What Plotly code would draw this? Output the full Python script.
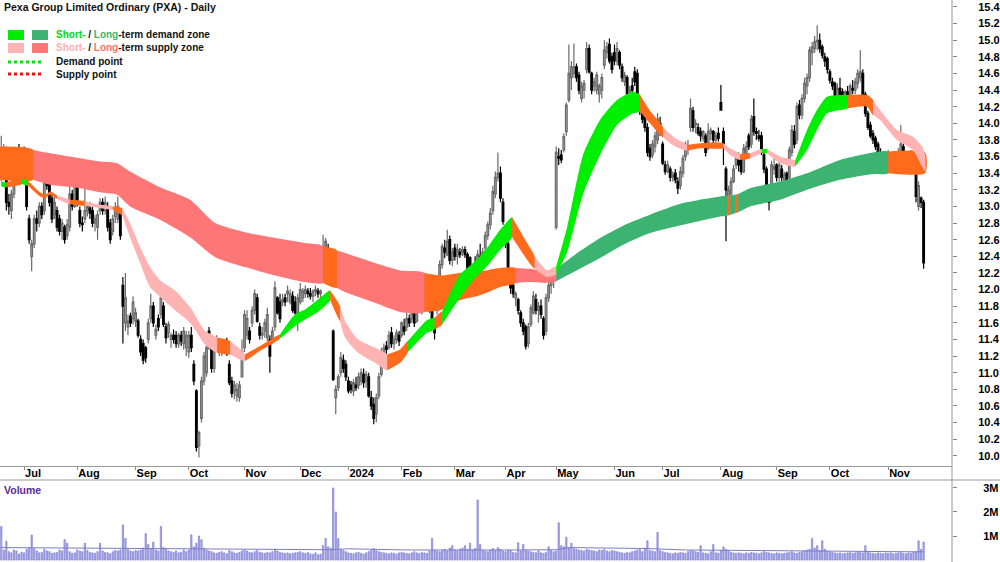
import pandas as pd
import plotly.graph_objects as go

# ---------------- data ----------------
holidays = ['2023-12-25', '2023-12-26', '2024-01-01', '2024-01-26',
            '2024-03-29', '2024-04-01', '2024-04-25', '2024-06-10']

open_ = [
 13.40,13.50,13.70,13.05,12.95,13.15,13.45,13.70,13.45,
 13.65,13.50,12.85,12.40,12.55,12.85,12.80,13.00,12.95,13.45,13.30,13.10,12.90,12.95,12.85,12.70,12.75,12.65,12.75,13.15,13.00,
 13.28,12.95,12.80,12.85,12.95,12.98,12.95,12.80,12.75,12.95,13.05,12.95,13.00,12.80,12.70,12.88,12.85,12.95,12.05,11.60,11.55,11.68,11.65,
 11.62,11.62,11.40,11.35,11.30,11.40,11.65,11.80,11.45,11.65,11.70,11.80,11.55,11.48,11.40,11.45,11.45,11.35,11.45,11.35,11.30,
 11.25,11.45,11.10,10.78,10.12,10.45,10.90,11.00,11.50,11.40,11.05,11.35,11.30,11.25,11.28,11.35,11.10,10.90,10.78,10.72,10.70,10.95,
 11.30,11.45,11.50,11.60,11.75,11.90,11.55,11.45,11.50,11.42,11.40,11.40,11.55,11.90,11.85,11.85,11.90,11.95,11.85,11.92,11.85,11.72,
 11.85,11.90,11.95,11.98,11.95,11.92,11.98,11.98,11.95,12.20,12.45,12.50,12.18,11.50,10.70,10.82,11.00,11.15,11.10,
 10.90,10.85,10.78,10.85,10.85,10.90,10.98,10.90,10.95,10.70,10.62,10.50,10.72,10.98,11.20,11.32,11.30,11.48,11.35,11.40,11.45,
 11.45,11.55,11.55,11.65,11.65,11.72,11.62,11.85,11.80,11.85,12.08,11.90,11.75,11.60,11.75,12.05,12.30,12.50,12.42,12.60,12.35,
 12.50,12.40,12.45,12.45,12.48,12.42,12.38,12.10,12.25,12.22,12.40,12.30,12.50,12.65,12.78,12.95,13.15,13.35,13.40,13.05,
 12.70,12.55,12.10,12.05,11.90,11.88,11.72,11.60,11.55,11.35,11.58,11.72,11.88,11.75,11.80,11.65,11.50,11.90,12.05,12.10,
 12.75,13.60,13.62,13.68,13.90,14.28,14.55,14.60,14.68,14.58,14.30,14.40,14.65,14.90,14.60,14.45,14.40,14.35,14.40,14.70,14.85,14.95,14.80,
 14.85,14.75,14.85,14.68,14.50,14.55,14.32,14.45,14.62,14.60,14.25,14.20,14.10,13.95,13.70,13.62,13.72,13.80,14.00,
 13.75,13.50,13.42,13.45,13.35,13.40,13.30,13.25,13.40,13.60,13.70,13.95,14.15,13.98,13.95,13.90,13.82,13.85,13.70,13.88,13.90,13.80,13.88,
 14.25,13.90,13.45,13.05,13.15,13.30,13.50,13.58,13.58,13.42,13.62,13.85,13.75,14.08,13.90,13.85,13.85,13.62,13.45,13.20,13.10,13.45,
 13.50,13.35,13.45,13.32,13.40,13.35,13.65,13.90,13.80,14.22,14.10,14.30,14.45,14.55,14.85,14.90,14.98,15.00,14.92,14.80,14.78,
 14.62,14.50,14.48,14.30,14.42,14.38,14.25,14.38,14.32,14.42,14.40,14.48,14.55,14.60,14.35,14.12,13.98,13.88,13.82,13.75,13.65,13.60,13.52,
 13.48,13.62,13.50,13.58,13.52,13.65,13.72,13.60,13.50,13.58,13.60,13.45,13.00,13.10,13.05,
]
high = [
 13.85,13.75,13.72,13.15,13.20,13.50,13.70,13.75,13.70,
 13.72,13.55,12.90,12.60,12.90,12.95,13.05,13.05,13.45,13.55,13.35,13.15,13.12,13.00,12.90,12.85,12.78,12.85,13.25,13.20,13.42,
 13.32,13.00,12.88,13.28,13.05,13.05,13.00,12.90,12.95,13.10,13.10,13.12,13.05,12.85,12.90,13.05,13.12,12.98,12.15,12.20,11.70,11.72,11.92,
 11.78,11.65,11.45,11.40,11.32,11.65,11.95,11.85,11.58,11.70,12.10,11.85,11.60,11.62,11.48,11.52,11.50,11.48,11.50,11.55,11.50,
 11.50,11.55,11.15,10.80,10.30,10.95,11.25,11.35,11.55,11.45,11.40,11.45,11.42,11.40,11.40,11.42,11.15,10.95,10.90,10.88,10.90,11.40,
 11.75,11.75,11.55,11.80,12.00,11.95,11.60,11.55,11.65,11.78,11.45,11.55,12.10,11.92,11.95,11.95,11.95,12.05,12.00,11.98,11.92,11.95,
 12.08,12.02,12.05,12.02,12.02,12.00,12.05,12.02,12.00,12.66,12.62,12.55,12.45,11.52,10.85,10.98,11.25,11.22,11.15,
 10.95,10.90,10.92,10.95,11.00,11.05,11.05,11.02,11.00,10.78,10.70,10.75,11.00,11.30,11.35,11.38,11.50,11.55,11.45,11.52,11.50,
 11.62,11.65,11.78,11.70,11.78,11.75,11.95,12.00,11.92,12.15,12.12,11.98,11.80,11.65,12.02,12.35,12.55,12.60,12.72,12.65,12.50,
 12.55,12.55,12.50,12.52,12.52,12.45,12.40,12.30,12.40,12.48,12.55,12.50,12.70,12.82,12.98,13.25,13.42,13.65,13.48,13.10,
 12.75,12.60,12.15,12.08,11.98,11.90,11.75,11.65,11.58,11.60,11.82,11.98,11.95,11.85,11.88,11.68,11.95,12.12,12.15,12.25,
 13.72,13.70,13.68,13.88,14.25,14.95,14.75,14.96,14.72,14.62,14.50,14.52,14.98,14.95,14.62,14.55,14.62,14.48,14.60,15.00,14.98,15.02,14.85,
 14.95,14.98,14.88,14.72,14.62,14.58,14.45,14.55,14.68,14.65,14.30,14.24,14.15,14.00,13.75,13.80,13.90,14.12,14.08,
 13.78,13.55,13.55,13.48,13.42,13.45,13.35,13.48,13.62,13.78,13.80,14.30,14.20,14.05,14.00,13.95,13.92,13.88,14.00,13.95,13.92,13.90,13.95,
 14.46,13.95,13.48,13.25,13.35,13.50,13.62,13.65,13.62,13.75,13.78,13.88,14.10,14.30,13.95,13.92,13.90,13.65,13.48,13.25,13.55,13.58,
 13.52,13.55,13.50,13.42,13.42,13.72,13.98,13.98,14.25,14.28,14.35,14.55,14.60,14.92,14.98,15.05,15.18,15.08,14.95,14.85,14.80,
 14.65,14.55,14.50,14.48,14.55,14.42,14.40,14.45,14.48,14.52,14.55,14.65,14.88,14.65,14.38,14.15,14.02,13.92,13.85,13.78,13.70,13.62,13.58,
 13.68,13.65,13.62,13.65,13.70,13.98,13.78,13.65,13.62,13.68,13.65,13.48,13.30,13.12,13.08,
]
low = [
 13.30,13.40,12.95,12.90,12.85,13.10,13.40,13.40,13.40,
 13.45,12.95,12.55,12.22,12.50,12.70,12.75,12.85,12.90,13.20,13.00,12.80,12.85,12.70,12.65,12.60,12.55,12.60,12.70,12.95,12.98,
 13.00,12.75,12.70,12.80,12.88,12.85,12.75,12.70,12.60,12.90,12.90,12.90,12.70,12.55,12.65,12.80,12.80,12.60,11.35,11.50,11.45,11.55,11.58,
 11.55,11.42,11.20,11.10,11.12,11.35,11.60,11.55,11.40,11.50,11.65,11.55,11.35,11.42,11.30,11.35,11.30,11.30,11.32,11.28,11.20,
 11.18,11.25,10.85,10.05,9.98,10.40,10.85,10.95,11.28,11.00,11.00,11.25,11.20,11.20,11.25,11.20,10.85,10.70,10.68,10.65,10.65,10.95,
 11.25,11.40,11.35,11.55,11.70,11.60,11.40,11.40,11.42,11.38,11.00,11.35,11.50,11.70,11.60,11.80,11.80,11.85,11.82,11.72,11.70,11.50,
 11.82,11.85,11.90,11.90,11.88,11.85,11.92,11.90,11.88,12.15,12.40,12.15,12.12,10.90,10.50,10.78,10.95,11.00,10.90,
 10.75,10.75,10.72,10.78,10.80,10.85,10.82,10.82,10.70,10.55,10.38,10.40,10.68,10.95,11.15,11.22,11.28,11.30,11.28,11.35,11.32,
 11.42,11.45,11.50,11.55,11.60,11.55,11.60,11.75,11.70,11.80,11.80,11.72,11.55,11.40,11.70,12.00,12.25,12.38,12.40,12.30,12.28,
 12.35,12.30,12.38,12.40,12.38,12.20,12.10,12.00,12.10,12.18,12.30,12.25,12.45,12.60,12.72,12.90,13.10,13.30,13.05,12.78,
 12.50,12.08,11.95,11.90,11.80,11.70,11.55,11.45,11.28,11.30,11.55,11.70,11.70,11.60,11.65,11.40,11.45,11.85,11.95,12.02,
 12.72,13.50,13.52,13.65,13.85,14.25,14.40,14.55,14.50,14.35,14.25,14.30,14.60,14.60,14.35,14.38,14.35,14.25,14.30,14.65,14.78,14.72,14.60,
 14.70,14.70,14.65,14.50,14.45,14.30,14.28,14.35,14.45,14.25,14.10,14.00,13.90,13.60,13.55,13.58,13.65,13.75,13.85,
 13.50,13.38,13.40,13.30,13.30,13.28,13.15,13.20,13.35,13.55,13.62,13.90,13.90,13.88,13.85,13.78,13.78,13.60,13.68,13.80,13.75,13.70,13.78,
 14.15,13.50,12.58,12.95,13.10,13.28,13.45,13.42,13.38,13.40,13.58,13.68,13.70,13.85,13.80,13.78,13.62,13.40,13.12,12.95,13.05,13.38,
 13.30,13.30,13.30,13.25,13.28,13.32,13.60,13.70,13.75,14.05,14.05,14.25,14.35,14.50,14.70,14.85,14.88,14.85,14.78,14.68,14.60,
 14.48,14.40,14.28,14.25,14.32,14.20,14.22,14.28,14.28,14.35,14.35,14.42,14.50,14.30,14.08,13.92,13.82,13.75,13.68,13.58,13.52,13.45,13.40,
 13.40,13.45,13.45,13.48,13.50,13.60,13.55,13.45,13.48,13.52,13.48,13.05,12.95,12.98,12.25,
]
close = [
 13.70,13.65,13.05,13.00,13.15,13.45,13.60,13.45,13.65,
 13.50,13.00,12.60,12.55,12.85,12.80,13.00,12.90,13.38,13.25,13.05,12.85,13.05,12.75,12.70,12.80,12.60,12.78,13.15,13.00,13.30,
 13.05,12.80,12.78,12.95,13.00,12.92,12.80,12.85,12.90,13.05,12.95,13.05,12.75,12.60,12.85,12.98,13.00,12.65,11.80,11.90,11.62,11.60,11.85,
 11.72,11.45,11.25,11.15,11.18,11.60,11.80,11.60,11.52,11.55,11.90,11.58,11.42,11.58,11.45,11.40,11.35,11.45,11.38,11.50,11.45,
 11.45,11.30,10.90,10.10,10.28,10.90,11.20,11.30,11.32,11.05,11.35,11.40,11.35,11.32,11.38,11.25,10.88,10.75,10.85,10.80,10.85,11.25,
 11.70,11.65,11.40,11.75,11.95,11.62,11.45,11.48,11.60,11.70,11.20,11.50,12.02,11.72,11.65,11.88,11.85,11.98,11.95,11.75,11.72,11.90,
 12.00,11.98,12.00,11.95,11.92,11.98,12.00,11.95,11.98,12.40,12.58,12.18,12.38,10.92,10.80,10.95,11.18,11.05,10.95,
 10.78,10.80,10.88,10.82,10.95,11.00,10.88,10.98,10.72,10.60,10.45,10.70,10.95,11.25,11.30,11.28,11.45,11.35,11.40,11.48,11.38,
 11.60,11.50,11.65,11.60,11.72,11.60,11.90,11.80,11.88,12.08,11.85,11.75,11.58,11.48,11.98,12.30,12.52,12.45,12.58,12.35,12.45,
 12.40,12.48,12.42,12.48,12.42,12.25,12.15,12.25,12.20,12.42,12.35,12.45,12.65,12.78,12.92,13.18,13.35,13.40,13.10,12.82,
 12.55,12.12,12.02,11.95,11.95,11.75,11.60,11.50,11.32,11.55,11.78,11.92,11.75,11.80,11.70,11.45,11.90,12.05,12.10,12.20,
 13.65,13.58,13.56,13.84,14.22,14.60,14.68,14.68,14.55,14.40,14.45,14.48,14.90,14.62,14.40,14.50,14.58,14.45,14.55,14.88,14.92,14.75,14.65,
 14.75,14.90,14.70,14.55,14.58,14.35,14.40,14.40,14.50,14.28,14.15,14.05,13.95,13.65,13.60,13.75,13.85,14.05,13.90,
 13.52,13.42,13.50,13.35,13.38,13.32,13.22,13.42,13.58,13.75,13.72,14.18,13.95,14.00,13.88,13.85,13.90,13.65,13.90,13.92,13.80,13.85,13.82,
 14.16,13.75,13.20,13.20,13.30,13.45,13.58,13.50,13.42,13.70,13.72,13.72,14.05,13.90,13.88,13.82,13.65,13.45,13.18,13.05,13.50,13.48,
 13.35,13.50,13.35,13.38,13.30,13.68,13.92,13.75,14.20,14.10,14.30,14.48,14.55,14.88,14.92,14.98,15.00,14.90,14.82,14.75,14.65,
 14.52,14.45,14.32,14.42,14.35,14.25,14.38,14.30,14.45,14.40,14.50,14.60,14.62,14.35,14.12,13.95,13.85,13.80,13.72,13.62,13.58,13.50,13.45,
 13.62,13.50,13.58,13.52,13.65,13.75,13.60,13.50,13.58,13.62,13.52,13.12,13.25,13.05,12.32,
]

volume_k = [
 1400,420,780,350,300,420,380,250,330,
 300,450,520,1040,480,380,300,320,450,380,350,280,300,320,420,380,850,700,350,280,300,
 420,380,350,700,400,320,300,280,350,700,380,320,300,260,350,400,380,420,1460,900,450,380,350,
 400,380,420,500,1100,650,480,750,420,380,1400,520,450,380,350,320,380,300,330,420,350,
 420,1050,550,700,1000,850,500,420,380,350,300,280,320,350,300,260,400,350,300,280,320,380,
 420,380,320,300,350,400,330,300,280,320,300,350,450,380,320,300,280,300,260,280,300,320,
 350,300,280,320,260,240,300,220,250,600,900,550,500,3000,2000,900,450,400,350,
 300,280,260,300,320,280,250,300,350,420,480,400,350,320,300,280,260,300,280,250,300,
 320,300,280,260,300,350,300,280,320,300,280,380,900,420,380,350,400,450,380,500,600,
 420,380,450,500,600,450,700,420,480,2500,650,400,380,350,420,480,400,520,450,380,
 350,420,400,320,300,720,380,650,420,380,350,320,300,380,300,280,320,550,400,350,
 380,1550,600,550,950,500,700,480,450,420,400,380,450,420,400,380,350,420,400,450,380,350,400,
 380,350,320,300,280,320,300,350,380,420,450,350,500,800,400,380,350,1150,400,
 350,320,300,280,260,300,280,320,300,280,350,400,380,350,320,600,300,280,260,350,650,300,280,
 400,550,450,380,320,300,280,300,280,260,300,280,320,300,280,260,300,350,320,300,280,260,
 300,280,260,280,300,320,350,300,280,320,350,380,420,450,900,500,600,400,800,450,380,
 350,320,300,280,300,260,280,300,320,280,300,350,320,300,600,350,300,280,260,300,280,260,300,
 280,300,260,280,300,320,280,260,300,280,320,350,800,450,750,
]

# volume average line (read at a few points, in thousands)
vavg_x = [0, 30, 60, 100, 130, 137, 160, 200, 219, 224, 255, 270, 300, 330, 364]
vavg_k = [520, 500, 480, 460, 430, 470, 420, 420, 430, 520, 480, 420, 380, 370, 340]

# short-term zone: day position, upper, lower, colour code of the stretch that follows
st_x  = [0, 2, 8.2, 10.6, 15.3, 17.3, 19.3, 22, 27, 33, 39, 44, 47.7, 50.8, 54.8, 58.7, 62.7, 68.6, 74.5, 80.4,
         85.2, 90.3, 96.2, 102.1, 110, 115.9, 119.9, 125, 129.8, 133.7, 135.7, 140.8, 147.5, 152.3, 157.4, 160.5,
         168, 171, 174, 181, 186.2, 191.7, 196.9, 201.6, 207.5, 210.5, 215.4, 219, 223.3, 229.6, 236.3, 243, 249.3,
         252.1, 256, 261.2, 266, 270.7, 275.8, 285, 287.6, 291.6, 295.5, 300.2, 302.2, 307.3, 313.3, 318, 321.9,
         325.9, 331, 333.8, 341.7, 344, 346.8, 353.5, 359.8, 363.4, 364.6]
st_hi = [13.30, 13.29, 13.33, 13.31, 13.17, 13.14, 13.18, 13.13, 13.08, 13.06, 13.02, 13.00, 12.98, 12.80, 12.51, 12.27,
         12.11, 11.99, 11.79, 11.50, 11.42, 11.38, 11.22, 11.32, 11.46, 11.70, 11.76, 11.88, 11.99, 11.80, 11.62, 11.40,
         11.30, 11.22, 11.28, 11.38, 11.63, 11.66, 11.74, 12.18, 12.32, 12.50, 12.72, 12.87, 12.56, 12.40, 12.23, 12.28,
         12.75, 13.62, 14.04, 14.28, 14.38, 14.34, 14.15, 13.95, 13.82, 13.74, 13.76, 13.76, 13.70, 13.63, 13.64, 13.69,
         13.69, 13.60, 13.55, 13.92, 14.16, 14.32, 14.34, 14.34, 14.34, 14.28, 14.16, 13.92, 13.84, 13.72, 13.62]
st_lo = [13.24, 13.23, 13.27, 13.25, 13.12, 13.10, 13.14, 13.09, 13.03, 13.01, 12.98, 12.96, 12.90, 12.63, 12.32, 12.03,
         11.91, 11.75, 11.60, 11.34, 11.24, 11.22, 11.14, 11.26, 11.41, 11.56, 11.64, 11.73, 11.87, 11.62, 11.42, 11.24,
         11.12, 11.03, 11.12, 11.25, 11.48, 11.52, 11.58, 11.90, 12.11, 12.28, 12.48, 12.63, 12.36, 12.25, 12.15, 12.18,
         12.45, 13.15, 13.62, 13.98, 14.12, 14.14, 14.00, 13.83, 13.72, 13.67, 13.70, 13.70, 13.62, 13.56, 13.58, 13.65,
         13.64, 13.52, 13.48, 13.68, 13.92, 14.12, 14.16, 14.18, 14.20, 14.10, 14.04, 13.80, 13.68, 13.48, 13.42]
st_col = ['G', 'O', 'G', 'O', 'O', 'O', 'O', 'P', 'O', 'P', 'P', 'O', 'P', 'P', 'P', 'P', 'P', 'P', 'P', 'P',
          'O', 'P', 'O', 'O', 'G', 'G', 'G', 'G', 'O', 'P', 'P', 'P', 'P', 'O', 'O', 'G',
          'G', 'O', 'G', 'G', 'G', 'G', 'G', 'O', 'O', 'P', 'P', 'G', 'G', 'G', 'G', 'G', 'G',
          'O', 'O', 'P', 'P', 'O', 'O', 'P', 'P', 'O', 'P', 'G', 'P', 'P', 'G', 'G', 'G',
          'G', 'G', 'O', 'O', 'P', 'P', 'P', 'P', 'P', '-']

# long-term zone
lt_x  = [-0.5, 12.6, 19.3, 31, 39, 45.7, 50.8, 62.7, 74.5, 84.4, 96.2, 108, 119.9, 127, 132.5, 135.7, 147.5, 157.4,
         167, 173.2, 181, 189, 196.9, 203, 208.7, 214.6, 219, 226.4, 236.3, 246.2, 256, 269, 283.7, 286.5, 287.7,
         289.6, 290.8, 295.5, 307.3, 318, 331, 344, 350, 364.6]
lt_hi = [13.72, 13.68, 13.64, 13.58, 13.54, 13.52, 13.42, 13.23, 13.08, 12.80, 12.69, 12.62, 12.56, 12.52, 12.47, 12.44,
         12.32, 12.23, 12.20, 12.17, 12.20, 12.22, 12.26, 12.26, 12.25, 12.22, 12.25, 12.42, 12.62, 12.78, 12.90, 13.04,
         13.12, 13.13, 13.13, 13.14, 13.15, 13.22, 13.30, 13.40, 13.56, 13.65, 13.66, 13.65]
lt_lo = [13.32, 13.32, 13.26, 13.22, 13.17, 13.14, 13.00, 12.84, 12.63, 12.39, 12.27, 12.17, 12.09, 12.08, 12.02, 11.97,
         11.84, 11.73, 11.73, 11.75, 11.87, 11.93, 12.03, 12.08, 12.09, 12.08, 12.10, 12.22, 12.38, 12.55, 12.68, 12.78,
         12.88, 12.89, 12.90, 12.92, 12.93, 13.00, 13.08, 13.20, 13.32, 13.39, 13.40, 13.40]
lt_col = ['O', 'L', 'L', 'L', 'L', 'L', 'L', 'L', 'L', 'L', 'L', 'L', 'L', 'O', 'L', 'L', 'L', 'L',
          'O', 'O', 'O', 'O', 'O', 'L', 'L', 'L', 'D', 'D', 'D', 'D', 'D', 'D', 'D', 'O', 'D',
          'O', 'D', 'D', 'D', 'D', 'D', 'D', 'O', '-']

zone_colors = {'G': '#00ee00', 'P': '#ffb3b3', 'O': '#ff6a1c', 'L': '#ff7676', 'D': '#3cb371'}

# ---------------- figure ----------------
FONT = 'Liberation Sans, Arial, sans-serif'
W, H, PW = 1000, 562, 952

n = len(close)
idx = list(range(n))
bd = pd.bdate_range('2023-06-20', '2024-12-31')
bd = bd[~bd.isin(pd.to_datetime(holidays))][:n]
tickvals, ticktext = [], []
for i in range(1, n):
    if bd[i].month != bd[i - 1].month:
        tickvals.append(i)
        ticktext.append(str(bd[i].year) if bd[i].month == 1 else bd[i].strftime('%b'))

fig = go.Figure()


def add_zone(xs, his, los, cols):
    i = 0
    m = len(xs)
    while i < m - 1:
        c = cols[i]
        j = i
        while j + 1 < m - 1 and cols[j + 1] == c:
            j += 1
        px = list(xs[i:j + 2])
        top = list(his[i:j + 2])
        bot = list(los[i:j + 2])
        fig.add_trace(go.Scatter(
            x=px + px[::-1], y=top + bot[::-1], mode='lines', fill='toself',
            fillcolor=zone_colors[c], line=dict(width=0, shape='spline', smoothing=0.6),
            hoverinfo='skip', showlegend=False, xaxis='x', yaxis='y'))
        i = j + 1


add_zone(lt_x, lt_hi, lt_lo, lt_col)
add_zone(st_x, st_hi, st_lo, st_col)

fig.add_trace(go.Candlestick(
    x=idx, open=open_, high=high, low=low, close=close,
    increasing=dict(line=dict(color='#6a6a6a', width=1.2), fillcolor='#b0b0b0'),
    decreasing=dict(line=dict(color='#000000', width=1.2), fillcolor='#000000'),
    whiskerwidth=0, showlegend=False, xaxis='x', yaxis='y'))

fig.add_trace(go.Bar(
    x=idx, y=[v * 1000 for v in volume_k], width=0.5,
    marker=dict(color='#b3b3ec', line=dict(color='#7a7ad2', width=0.7)),
    showlegend=False, xaxis='x2', yaxis='y2'))
fig.add_trace(go.Scatter(
    x=vavg_x, y=[v * 1000 for v in vavg_k], mode='lines',
    line=dict(color='#7c7cc8', width=1), showlegend=False, xaxis='x2', yaxis='y2'))

price_bottom = 1 - 466 / H
vol_top = 1 - 480 / H

tickfont = dict(family=FONT, size=11, color='#000000', weight='bold')
fig.update_layout(
    width=W, height=H, margin=dict(l=0, r=W - PW, t=0, b=0, autoexpand=False),
    paper_bgcolor='white', plot_bgcolor='white', showlegend=False, boxgap=0.05,
    xaxis=dict(domain=[0, 1], range=[-0.5, 375.2], anchor='y', tickvals=tickvals, ticktext=ticktext,
               ticks='outside', ticklen=3, tickcolor='#888888', ticklabelposition='outside right',
               ticklabelstandoff=-3, automargin=False,
               showline=True, linecolor='#999999', linewidth=1, showgrid=False, zeroline=False,
               rangeslider=dict(visible=False), tickfont=tickfont),
    yaxis=dict(domain=[price_bottom, 1], range=[9.877, 15.484], side='right', anchor='x',
               tick0=10.0, dtick=0.2, tickformat='.1f', ticks='outside', ticklen=4, tickcolor='#888888',
               ticklabelstandoff=19, automargin=False,
               showline=False, showgrid=False, zeroline=False, tickfont=tickfont),
    xaxis2=dict(domain=[0, 1], range=[-0.5, 375.2], anchor='y2', matches='x', showticklabels=False,
                ticks='', showline=False, showgrid=False, zeroline=False, automargin=False),
    yaxis2=dict(domain=[0, vol_top], range=[-0.08e6, 3.33e6], side='right', anchor='x2',
                tickvals=[1e6, 2e6, 3e6], ticktext=['1M', '2M', '3M'], ticks='outside', ticklen=4,
                tickcolor='#888888', ticklabelstandoff=24, automargin=False,
                showline=False, showgrid=False, zeroline=False, tickfont=tickfont),
)

shapes = [
    dict(type='line', xref='paper', yref='paper', x0=1, x1=1, y0=0, y1=1,
         line=dict(color='#999999', width=1)),
    dict(type='line', xref='paper', yref='paper', x0=0, x1=W / PW, y0=vol_top, y1=vol_top,
         line=dict(color='#999999', width=1)),
]


def px_x(v):
    return v / PW


def px_y(v):
    return 1 - v / H


# legend swatches
for (x0, x1, y0, y1, col) in [(8, 24, 30, 40, zone_colors['G']), (32, 48, 30, 40, zone_colors['D']),
                              (8, 24, 43, 53, zone_colors['P']), (32, 48, 43, 53, zone_colors['L'])]:
    shapes.append(dict(type='rect', xref='paper', yref='paper', x0=px_x(x0), x1=px_x(x1),
                       y0=px_y(y1), y1=px_y(y0), fillcolor=col, line=dict(width=0)))
shapes.append(dict(type='line', xref='paper', yref='paper', x0=px_x(8), x1=px_x(44), y0=px_y(62), y1=px_y(62),
                   line=dict(color='#11dd11', width=3, dash='dot')))
shapes.append(dict(type='line', xref='paper', yref='paper', x0=px_x(8), x1=px_x(44), y0=px_y(74), y1=px_y(74),
                   line=dict(color='#ee1111', width=3, dash='dot')))
fig.update_layout(shapes=shapes)

lab = dict(family=FONT, size=10, color='#111111', weight='bold')
annots = [
    (2, 7, 'Pexa Group Limited Ordinary (PXA) - Daily', '#111111', 10.5),
    (54, 35, '<span style="color:#00dd00">Short-</span> / <span style="color:#3cb371">Long</span>-term demand zone', '#111111', 10),
    (54, 48, '<span style="color:#ffb0b0">Short-</span> / <span style="color:#ff6f6f">Long</span>-term supply zone', '#111111', 10),
    (54, 62, 'Demand point', '#111111', 10),
    (54, 74, 'Supply point', '#111111', 10),
    (2, 490, 'Volume', '#5b2a92', 10.5),
]
for (x, y, t, c, s) in annots:
    fig.add_annotation(xref='paper', yref='paper', x=px_x(x), y=px_y(y), text=t, showarrow=False,
                       xanchor='left', yanchor='middle', font=dict(lab, color=c, size=s))

fig.write_html('out.html')
